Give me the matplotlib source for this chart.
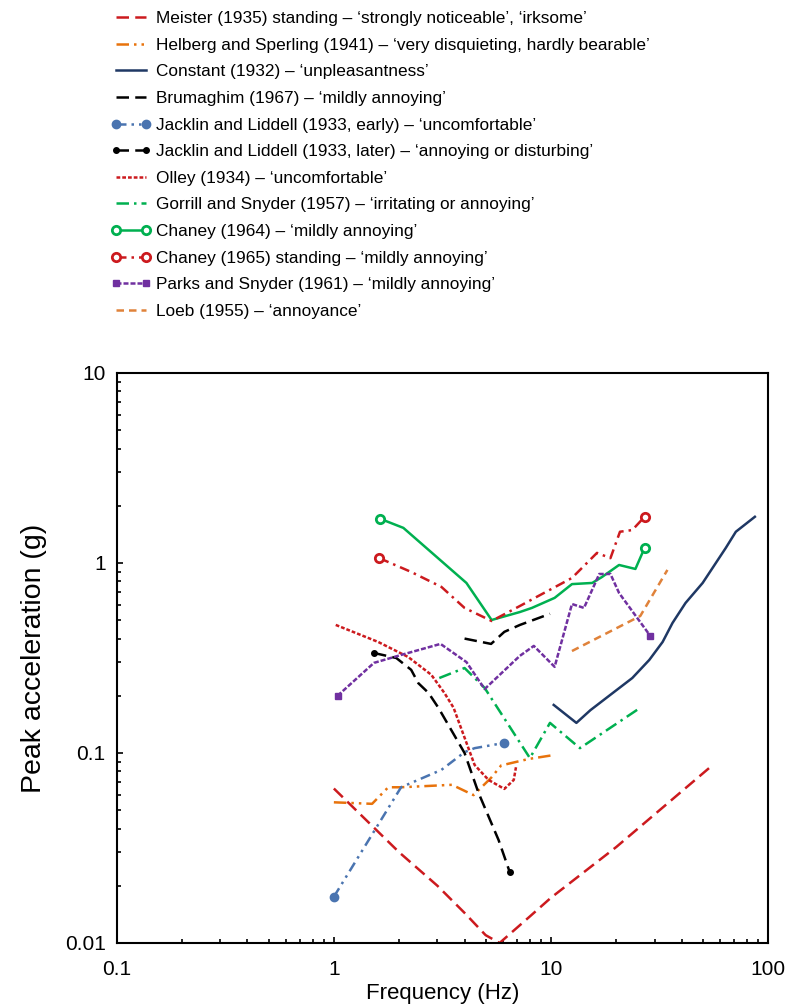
import matplotlib.pyplot as plt
from matplotlib.ticker import NullFormatter

plt.rcParams["font.family"] = ["Liberation Sans", "DejaVu Sans"]

# values (frequency in Hz, peak acceleration in g)
meister_f = [1.0, 2.0, 3.0, 4.0, 5.0, 5.8, 8.0, 10.0, 20.0, 56.0]
meister_a = [0.065, 0.030, 0.020, 0.0144, 0.011, 0.010, 0.0138, 0.0173, 0.032, 0.087]

helberg_f = [1.0, 1.5, 1.78, 2.04, 3.5, 4.4, 5.3, 5.9, 7.9, 10.0]
helberg_a = [0.055, 0.054, 0.066, 0.066, 0.068, 0.060, 0.074, 0.086, 0.093, 0.097]

constant_f = [10.3, 13.1, 15.2, 19.6, 23.7, 28.4, 32.7, 36.3, 41.7, 50, 63.9, 71.1, 87]
constant_a = [0.179, 0.144, 0.168, 0.21, 0.248, 0.309, 0.384, 0.483, 0.616, 0.785, 1.2, 1.46, 1.75]

brumaghim_f = [4.0, 5.3, 6.1, 7.2, 9.9]
brumaghim_a = [0.40, 0.375, 0.434, 0.472, 0.54]

jl_early_f = [1.0, 2.04, 3.13, 4.0, 4.45, 6.1]
jl_early_a = [0.0175, 0.066, 0.0815, 0.101, 0.106, 0.113]

jl_later_f = [1.53, 1.94, 2.27, 2.45, 2.73, 3.03, 4.0, 4.64, 5.74, 6.46]
jl_later_a = [0.336, 0.316, 0.274, 0.233, 0.207, 0.173, 0.10, 0.0616, 0.0348, 0.0236]

olley_f = [1.02, 1.6, 2.2, 2.81, 3.23, 3.56, 4.45, 5.16, 6.1, 6.74, 6.9]
olley_a = [0.472, 0.384, 0.32, 0.258, 0.207, 0.173, 0.0865, 0.0721, 0.0647, 0.0721, 0.0841]

gorrill_f = [3.06, 4.0, 4.95, 8.0, 9.9, 13.6, 25.8]
gorrill_a = [0.248, 0.28, 0.22, 0.094, 0.144, 0.106, 0.173]

chaney64_f = [1.63, 2.09, 4.08, 5.33, 7.2, 8.17, 10.4, 12.5, 15.5, 17.2, 20.6, 24.5, 27]
chaney64_a = [1.71, 1.53, 0.785, 0.501, 0.552, 0.58, 0.655, 0.774, 0.785, 0.844, 0.976, 0.93, 1.2]

chaney65_f = [1.62, 2.27, 3.13, 4.0, 5.33, 7.34, 8.43, 12.5, 16.3, 18.8, 20.8, 23.7, 27]
chaney65_a = [1.06, 0.897, 0.748, 0.58, 0.495, 0.601, 0.655, 0.834, 1.13, 1.06, 1.46, 1.49, 1.75]

parks_f = [1.04, 1.53, 2.04, 3.1, 4.08, 4.95, 7.18, 8.34, 10.4, 12.5, 14.2, 16.7, 18.8, 20.6, 28.7]
parks_a = [0.2, 0.298, 0.328, 0.375, 0.301, 0.217, 0.324, 0.366, 0.284, 0.608, 0.58, 0.875, 0.875, 0.695, 0.413]

loeb_f = [12.5, 25.8, 34.4]
loeb_a = [0.344, 0.526, 0.919]

labels = [
    "Meister (1935) standing \u2013 \u2018strongly noticeable\u2019, \u2018irksome\u2019",
    "Helberg and Sperling (1941) \u2013 \u2018very disquieting, hardly bearable\u2019",
    "Constant (1932) \u2013 \u2018unpleasantness\u2019",
    "Brumaghim (1967) \u2013 \u2018mildly annoying\u2019",
    "Jacklin and Liddell (1933, early) \u2013 \u2018uncomfortable\u2019",
    "Jacklin and Liddell (1933, later) \u2013 \u2018annoying or disturbing\u2019",
    "Olley (1934) \u2013 \u2018uncomfortable\u2019",
    "Gorrill and Snyder (1957) \u2013 \u2018irritating or annoying\u2019",
    "Chaney (1964) \u2013 \u2018mildly annoying\u2019",
    "Chaney (1965) standing \u2013 \u2018mildly annoying\u2019",
    "Parks and Snyder (1961) \u2013 \u2018mildly annoying\u2019",
    "Loeb (1955) \u2013 \u2018annoyance\u2019",
]

fig = plt.figure(figsize=(8, 10.08), dpi=100)
ax = fig.add_axes([0.146, 0.0645, 0.814, 0.5655])

lw = 1.8
ends = [0, -1]
h = []
h += ax.plot(meister_f, meister_a, color="#CC1A1E", lw=lw, ls=(0, (5, 2.5)))
h += ax.plot(helberg_f, helberg_a, color="#E8730C", lw=lw, ls=(0, (5, 2, 1, 2, 1, 2)))
h += ax.plot(constant_f, constant_a, color="#1F3864", lw=lw)
h += ax.plot(brumaghim_f, brumaghim_a, color="black", lw=lw, ls=(0, (5, 2.5)))
h += ax.plot(jl_early_f, jl_early_a, color="#4A74B0", lw=lw, ls=(0, (4, 2, 1, 2, 1, 2)),
             marker="o", ms=6, markevery=ends)
h += ax.plot(jl_later_f, jl_later_a, color="black", lw=lw, ls=(0, (5, 2.5)),
             marker="o", ms=4, markevery=ends)
h += ax.plot(olley_f, olley_a, color="#CC1A1E", lw=lw, ls=(0, (1.5, 0.8)))
h += ax.plot(gorrill_f, gorrill_a, color="#00B050", lw=lw, ls=(0, (5, 2, 1, 2)))
h += ax.plot(chaney64_f, chaney64_a, color="#00B050", lw=lw,
             marker="o", ms=6, mfc="white", mew=2, markevery=ends)
h += ax.plot(chaney65_f, chaney65_a, color="#CC1A1E", lw=lw, ls=(0, (4, 2, 1, 2)),
             marker="o", ms=6, mfc="white", mew=2, markevery=ends)
h += ax.plot(parks_f, parks_a, color="#7030A0", lw=lw, ls=(0, (2, 0.8)),
             marker="s", ms=5, markevery=ends)
h += ax.plot(loeb_f, loeb_a, color="#E0823A", lw=lw, ls=(0, (3, 2)))

ax.set_xscale("log")
ax.set_yscale("log")
ax.set_xlim(0.1, 100)
ax.set_ylim(0.01, 10)
ax.set_xticks([0.1, 1, 10, 100])
ax.set_xticklabels(["0.1", "1", "10", "100"])
ax.set_yticks([0.01, 0.1, 1, 10])
ax.set_yticklabels(["0.01", "0.1", "1", "10"])
ax.xaxis.set_minor_formatter(NullFormatter())
ax.yaxis.set_minor_formatter(NullFormatter())
ax.tick_params(which="both", direction="in", top=False, right=False, labelsize=15, width=1.2)
ax.tick_params(which="major", length=4)
ax.tick_params(which="minor", length=3)
ax.tick_params(axis="x", pad=12)
ax.tick_params(axis="y", pad=8)
for s in ax.spines.values():
    s.set_linewidth(1.5)

ax.set_xlabel("Frequency (Hz)", fontsize=16, labelpad=3)
ax.set_ylabel("Peak acceleration (g)", fontsize=20.5, labelpad=13)

fig.legend(h, labels, loc="upper left", bbox_to_anchor=(0.125, 1.0), frameon=False,
           fontsize=12.4, handlelength=2.3, handletextpad=0.3, labelspacing=0.67,
           numpoints=2, borderaxespad=0.25)

fig.savefig("out.png", dpi=100)
